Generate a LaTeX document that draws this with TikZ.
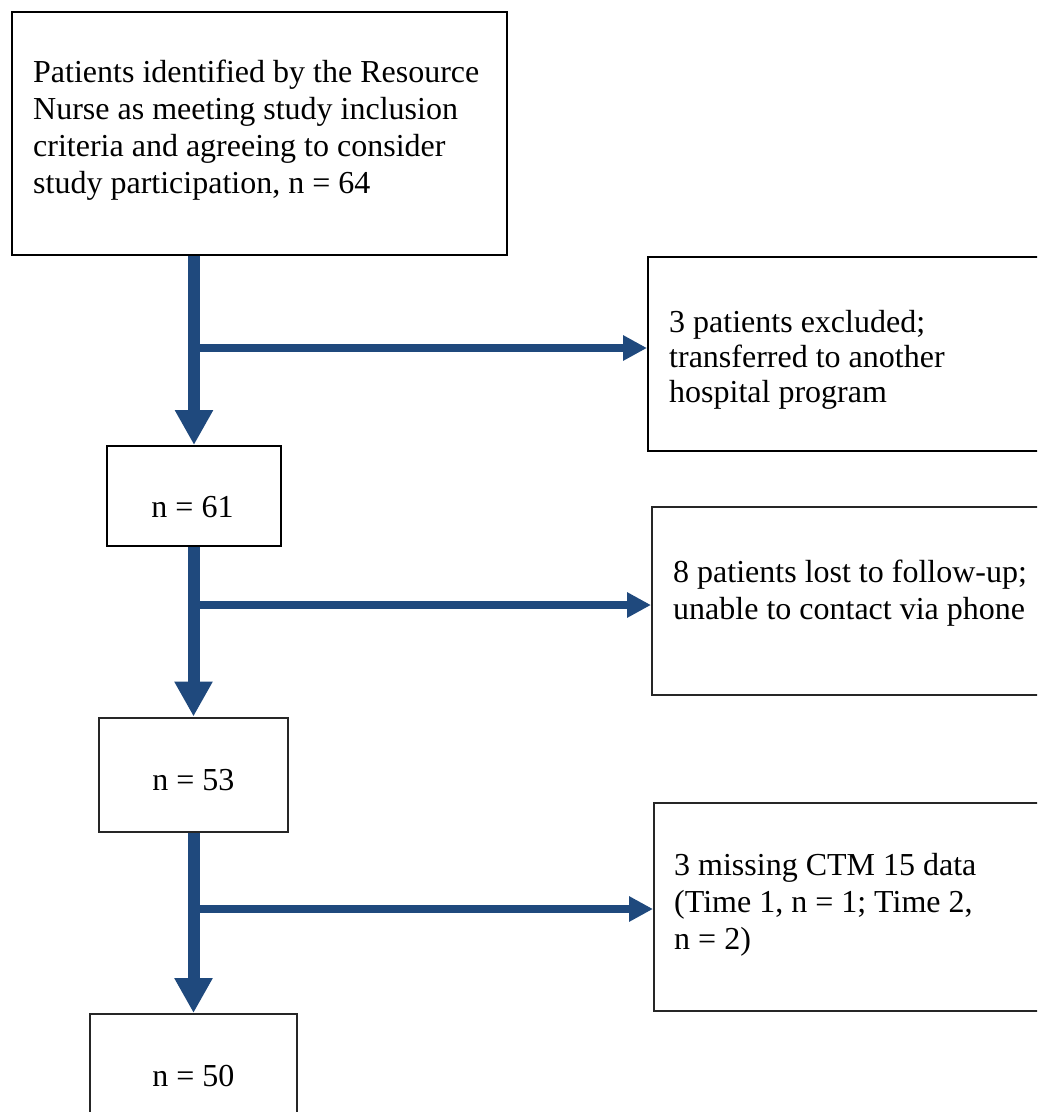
\documentclass[tikz,border=0pt]{standalone}
\usepackage{fontspec}
\setmainfont{Liberation Serif}
\usetikzlibrary{arrows.meta}
\definecolor{flowblue}{HTML}{1F497D}
\begin{document}
\begin{tikzpicture}[x=1pt,y=-1pt,
  box/.style={draw=black,line width=2pt,inner sep=0pt,fill=none},
  boxlight/.style={draw=black!85,line width=2pt,inner sep=0pt,fill=none},
  txt/.style={anchor=base west,inner sep=0pt,font=\fontsize{32}{37}\selectfont},
  ctxt/.style={anchor=base,inner sep=0pt,font=\fontsize{32}{37}\selectfont},
  varrow/.style={draw=flowblue,line width=12pt,-{Triangle[width=36pt,length=35pt]}},
  harrow/.style={draw=flowblue,line width=8pt,-{Triangle[width=24pt,length=24pt]}}]
\clip (0,0) rectangle (1037,1112);
\fill[white] (0,0) rectangle (1037,1112);

% boxes
\node[box,minimum width=495pt,minimum height=243pt] (top) at (259.5,133.5) {};
\node[box,minimum width=402pt,minimum height=194pt] (r1) at (849,354) {};
\node[box,minimum width=174pt,minimum height=100pt] (n61) at (194,496) {};
\node[boxlight,minimum width=398pt,minimum height=188pt] (r2) at (851,601) {};
\node[boxlight,minimum width=189pt,minimum height=114pt] (n53) at (193.5,774.5) {};
\node[boxlight,minimum width=396pt,minimum height=208pt] (r3) at (852,907) {};
\node[boxlight,minimum width=207pt,minimum height=136pt] (n50) at (193.5,1082) {};

% texts
\node[txt] (ttop) at (33,82.7) {\parbox[t]{600pt}{Patients identified by the Resource\\Nurse as meeting study inclusion\\criteria and agreeing to consider\\study participation, n = 64}};
\node[txt] (tr1) at (669,332.5) {\parbox[t]{400pt}{\baselineskip=35pt 3 patients excluded;\\transferred to another\\hospital program}};
\node[ctxt] (tn61) at (192.5,517.7) {n = 61};
\node[txt] (tr2) at (673,582.7) {\parbox[t]{400pt}{8 patients lost to follow-up;\\unable to contact via phone}};
\node[ctxt] (tn53) at (193.3,790) {n = 53};
\node[txt] (tr3) at (674,875) {\parbox[t]{400pt}{3 missing CTM 15 data\\(Time 1, n = 1; Time 2,\\n = 2)}};
\node[ctxt] (tn50) at (193.4,1086) {n = 50};

% branch points
\coordinate (b1) at (194,348);
\coordinate (b2) at (194,605);
\coordinate (b3) at (194,909);

% vertical arrows
\draw[varrow] (n61.north |- top.south) -- (n61.north);
\draw[varrow] (n53.north |- n61.south) -- (n53.north);
\draw[varrow] (n50.north |- n53.south) -- (n50.north);

% horizontal arrows
\draw[harrow] (b1) -- (b1 -| r1.west);
\draw[harrow] (b2) -- (b2 -| r2.west);
\draw[harrow] (b3) -- (b3 -| r3.west);
\end{tikzpicture}
\end{document}
